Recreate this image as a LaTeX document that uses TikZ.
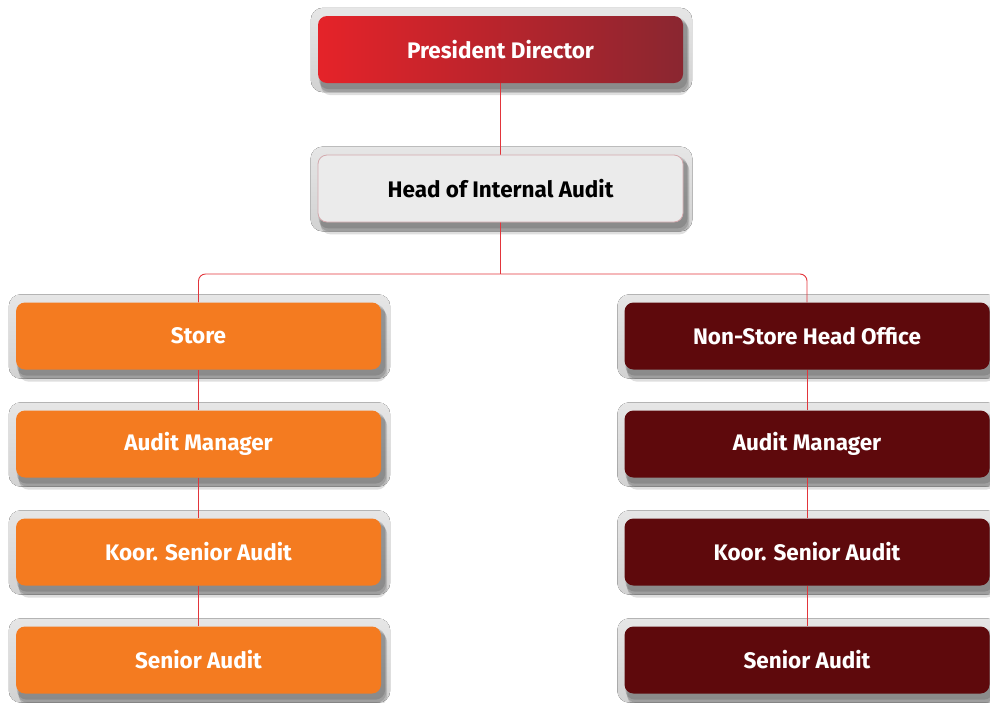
\documentclass[tikz,border=0pt]{standalone}
\usepackage{fontspec}
\setmainfont{Fira Sans}
\usetikzlibrary{calc}
\definecolor{lnred}{HTML}{E2353B}
\definecolor{pdL}{HTML}{E52329}
\definecolor{pdR}{HTML}{8A2630}
\definecolor{hiagray}{HTML}{EBEBEB}
\definecolor{hiaborder}{HTML}{D3A9AD}
\definecolor{storeor}{HTML}{F47B20}
\definecolor{nsred}{HTML}{5E090C}
\definecolor{frtop}{HTML}{E6E6E6}
\definecolor{frbot}{HTML}{D2D2D2}
\pgfdeclarelayer{frames}
\pgfdeclarelayer{links}
\pgfsetlayers{frames,links,main}
\tikzset{
  box/.style={rounded corners=9pt, minimum width=365pt, minimum height=67pt,
    font=\fontsize{22.5}{24}\selectfont\bfseries, text=white, inner sep=0pt},
  pdbox/.style={box, left color=pdL, right color=pdR},
  hiabox/.style={box, fill=hiagray, draw=hiaborder, line width=0.8pt, text=black},
  storebox/.style={box, fill=storeor},
  nsbox/.style={box, fill=nsred},
  frame/.style={rounded corners=12pt, top color=frtop, bottom color=frbot},
  shade/.style={rounded corners=10pt, fill=black, opacity=0.13},
  link/.style={draw=lnred, line width=0.9pt}
}
\newcommand\obox[5]{%
  \node[#4] (#1) at (#2,#3) {\raisebox{-2pt}{#5}};
  \begin{pgfonlayer}{frames}
    \fill[frame] ($(#1.north west)+(-7,-8)$) rectangle ($(#1.south east)+(9,9)$);
    \fill[shade] ($(#1.north west)+(1,2)$) rectangle ($(#1.south east)+(4,6)$);
    \fill[shade] ($(#1.north west)+(2,4)$) rectangle ($(#1.south east)+(5,9)$);
    \fill[shade] ($(#1.north west)+(3,6)$) rectangle ($(#1.south east)+(6,12)$);
  \end{pgfonlayer}
}
\begin{document}
\begin{tikzpicture}[x=1pt,y=-1pt]
\useasboundingbox (0,0) rectangle (990,702);
\clip (0,0) rectangle (990,702);
\obox{pd}{500.5}{49.5}{pdbox}{President Director}
\obox{hia}{500.5}{188.5}{hiabox}{Head of Internal Audit}
\obox{st}{198.5}{336}{storebox}{Store}
\obox{sam}{198.5}{444}{storebox}{Audit Manager}
\obox{sks}{198.5}{552}{storebox}{Koor. Senior Audit}
\obox{ssa}{198.5}{660}{storebox}{Senior Audit}
\obox{ns}{807}{336}{nsbox}{Non-Store Head Office}
\obox{nam}{807}{444}{nsbox}{Audit Manager}
\obox{nks}{807}{552}{nsbox}{Koor. Senior Audit}
\obox{nsa}{807}{660}{nsbox}{Senior Audit}
\coordinate (j) at (500.5,274);
\begin{pgfonlayer}{links}
\draw[link] (pd.south) -- (hia.north);
\draw[link] (hia.south) -- (j);
\draw[link, rounded corners=7pt] (j) -| (st.north);
\draw[link, rounded corners=7pt] (j) -| (ns.north);
\draw[link] (st.south) -- (sam.north);
\draw[link] (sam.south) -- (sks.north);
\draw[link] (sks.south) -- (ssa.north);
\draw[link] (ns.south) -- (nam.north);
\draw[link] (nam.south) -- (nks.north);
\draw[link] (nks.south) -- (nsa.north);
\end{pgfonlayer}
\end{tikzpicture}
\end{document}
